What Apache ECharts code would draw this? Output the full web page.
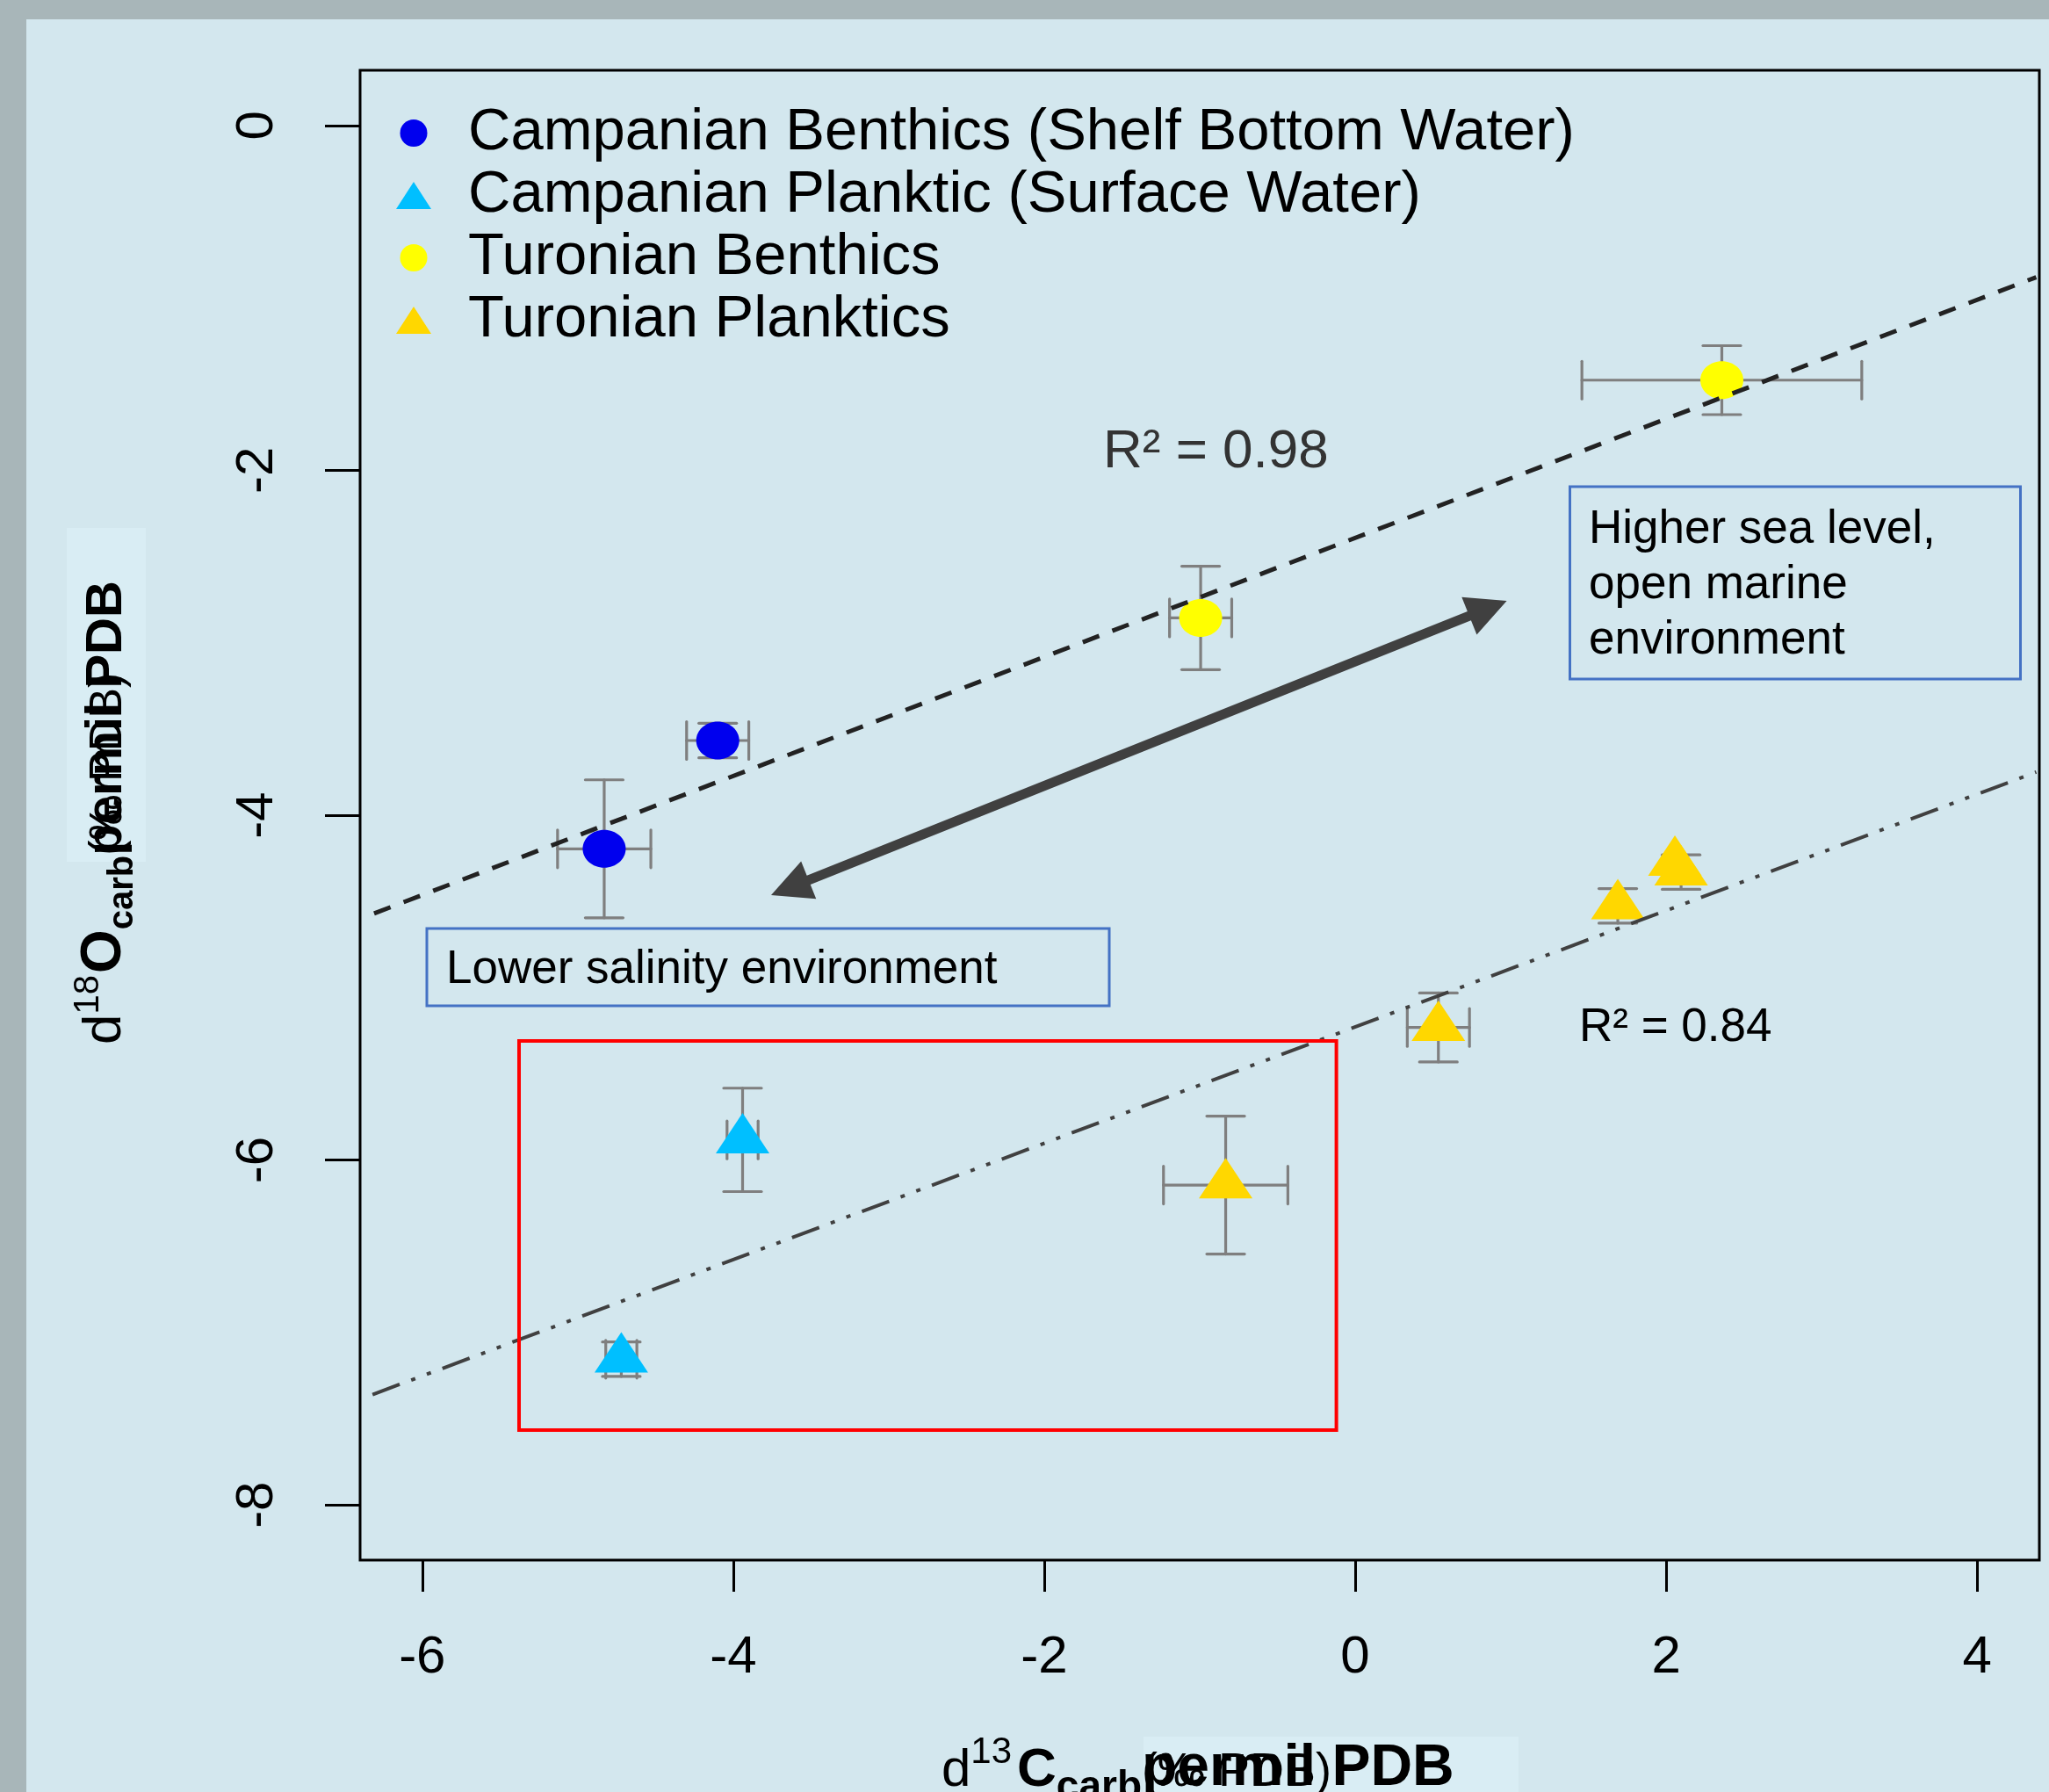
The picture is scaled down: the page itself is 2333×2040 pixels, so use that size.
<!DOCTYPE html>
<html><head><meta charset="utf-8">
<script src="https://cdn.jsdelivr.net/npm/echarts@6/dist/echarts.min.js"></script>
<style>html,body{margin:0;padding:0;background:#a8b6b9}#c{width:2333px;height:2040px}</style>
</head><body><div id="c"></div><script>
const FONT = 'Liberation Sans, Arial, Helvetica, sans-serif';

// ---- data ----
const seriesNames = ['Campanian Benthics (Shelf Bottom Water)', 'Campanian Planktic (Surface Water)', 'Turonian Benthics', 'Turonian Planktics'];
const campBenthX = [-4.83, -4.10];
const campBenthY = [-4.195, -3.567];
const campBenthXErr = [0.30, 0.20];
const campBenthYErr = [0.40, 0.10];
const campPlankX = [-3.94, -4.72];
const campPlankY = [-5.883, -7.155];
const campPlankXErr = [0.10, 0.10];
const campPlankYErr = [0.30, 0.10];
const turBenthX = [2.358, -0.994];
const turBenthY = [-1.477, -2.856];
const turBenthXErr = [0.90, 0.20];
const turBenthYErr = [0.20, 0.30];
const turPlankX = [0.535, 1.689, 2.056, 2.096, -0.833];
const turPlankY = [-5.231, -4.526, -4.274, -4.330, -6.145];
const turPlankXErr = [0.20, 0, 0, 0, 0.40];
const turPlankYErr = [0.20, 0.10, 0, 0.10, 0.40];
const benthTrendX = [-6.31, 4.38];
const benthTrendY = [-4.57, -0.88];
const plankTrendX = [-6.32, 4.38];
const plankTrendY = [-7.36, -3.75];
const xTicks = [-6, -4, -2, 0, 2, 4];
const yTicks = [0, -2, -4, -6, -8];

const zip2 = (a, b) => a.map((v, i) => [v, b[i]]);
const zip4 = (a, b, c, d) => a.map((v, i) => [v, b[i], c[i], d[i]]);

const ELLIPSE = 'path://M0,50 C0,22.4 22.4,0 50,0 C77.6,0 100,22.4 100,50 C100,77.6 77.6,100 50,100 C22.4,100 0,77.6 0,50 Z';

const errData = [].concat(
  zip4(campBenthX, campBenthY, campBenthXErr, campBenthYErr),
  zip4(campPlankX, campPlankY, campPlankXErr, campPlankYErr),
  zip4(turBenthX, turBenthY, turBenthXErr, turBenthYErr),
  zip4(turPlankX, turPlankY, turPlankXErr, turPlankYErr)
);

function errRender(params, api) {
  const x = api.value(0), y = api.value(1), ex = api.value(2), ey = api.value(3);
  const c = api.coord([x, y]);
  const cap = 21.5;
  const st = {stroke: '#7f7f7f', lineWidth: 3.2, lineCap: 'round'};
  const ch = [];
  if (ey > 0) {
    const t = api.coord([x, y + ey]), b = api.coord([x, y - ey]);
    ch.push({type: 'line', shape: {x1: c[0], y1: t[1], x2: c[0], y2: b[1]}, style: st});
    ch.push({type: 'line', shape: {x1: c[0] - cap, y1: t[1], x2: c[0] + cap, y2: t[1]}, style: st});
    ch.push({type: 'line', shape: {x1: c[0] - cap, y1: b[1], x2: c[0] + cap, y2: b[1]}, style: st});
  }
  if (ex > 0) {
    const l = api.coord([x - ex, y]), r = api.coord([x + ex, y]);
    ch.push({type: 'line', shape: {x1: l[0], y1: c[1], x2: r[0], y2: c[1]}, style: st});
    ch.push({type: 'line', shape: {x1: l[0], y1: c[1] - cap, x2: l[0], y2: c[1] + cap}, style: st});
    ch.push({type: 'line', shape: {x1: r[0], y1: c[1] - cap, x2: r[0], y2: c[1] + cap}, style: st});
  }
  return {type: 'group', children: ch};
}

// text measuring for composed axis titles
const mctx = document.createElement('canvas').getContext('2d');
function seq(x0, y0, rot, pieces) {
  let pos = 0, lastStart = 0;
  const children = [];
  pieces.forEach(p => {
    const font = (p.bold ? 'bold ' : '') + p.size + 'px ' + FONT;
    mctx.font = font;
    const w = mctx.measureText(p.t).width;
    let start = p.back ? lastStart : pos + (p.dx || 0);
    children.push({type: 'text', x: start, y: (p.dy || 0) - 0.3465 * p.size,
      style: {text: p.t, fontSize: p.size, fontWeight: p.bold ? 'bold' : 'normal', fontFamily: FONT,
        fill: '#000', align: 'left', verticalAlign: 'middle', textAlign: 'left', textVerticalAlign: 'middle'}});
    if (!p.back) { lastStart = start; pos = start + w; }
  });
  return {type: 'group', x: x0, y: y0, rotation: rot, children: children, z: 50};
}

function txt(x, y, s, size, color) {
  return {type: 'text', x: x, y: y, z: 60,
    style: {text: s, fontSize: size, fontFamily: FONT, fill: color, align: 'left', verticalAlign: 'middle', textAlign: 'left', textVerticalAlign: 'middle'}};
}
function box(x, y, w, h, color, lw) {
  return {type: 'rect', z: 60, shape: {x: x, y: y, width: w, height: h}, style: {fill: 'none', stroke: color, lineWidth: lw}};
}
function arrow(ax, ay, bx, by, hl, hw, sw) {
  const dx = bx - ax, dy = by - ay, L = Math.hypot(dx, dy);
  const ux = dx / L, uy = dy / L, nx = -uy, ny = ux;
  const P = (t, s) => [ax + ux * t + nx * s, ay + uy * t + ny * s];
  const pts = [P(0, 0), P(hl, hw), P(hl, sw), P(L - hl, sw), P(L - hl, hw), P(L, 0), P(L - hl, -hw), P(L - hl, -sw), P(hl, -sw), P(hl, -hw)];
  return {type: 'polygon', z: 60, shape: {points: pts}, style: {fill: '#404040'}};
}

const chart = echarts.init(document.getElementById('c'), null, {renderer: 'canvas', width: 2333, height: 2040});
chart.setOption({
  animation: false,
  backgroundColor: '#a8b6b9',
  grid: {left: 410, top: 80, width: 1912, height: 1696, show: true, borderColor: '#000', borderWidth: 3,
    backgroundColor: 'transparent', containLabel: false, outerBoundsMode: 'none'},
  legend: {
    orient: 'vertical', left: 451, top: 118, padding: 0, itemGap: 4, itemWidth: 40, itemHeight: 31,
    selectedMode: false,
    textStyle: {fontSize: 67, lineHeight: 64, fontFamily: FONT, color: '#000', padding: [0, 0, 0, 37]},
    data: [
      {name: seriesNames[0], icon: 'circle'},
      {name: seriesNames[1], icon: 'triangle'},
      {name: seriesNames[2], icon: 'circle'},
      {name: seriesNames[3], icon: 'triangle'}
    ]
  },
  xAxis: {
    type: 'value', min: -6.4, max: 4.4,
    axisLine: {show: false, onZero: false}, splitLine: {show: false},
    axisTick: {show: true, length: 36, lineStyle: {color: '#000', width: 3}, customValues: xTicks},
    axisLabel: {customValues: xTicks, fontSize: 60, fontFamily: FONT, color: '#000', margin: 81}
  },
  yAxis: {
    type: 'value', min: -8.32, max: 0.32,
    axisLine: {show: false, onZero: false}, splitLine: {show: false},
    axisTick: {show: true, length: 40, lineStyle: {color: '#000', width: 3}, customValues: yTicks},
    axisLabel: {customValues: yTicks, fontSize: 60, fontFamily: FONT, color: '#000', margin: 87, rotate: 90}
  },
  series: [
    {type: 'custom', name: 'errors', renderItem: errRender, data: errData, z: 2, silent: true,
      encode: {x: 0, y: 1}},
    {type: 'scatter', name: seriesNames[0], data: zip2(campBenthX, campBenthY), symbol: ELLIPSE, symbolKeepAspect: false,
      symbolSize: [49, 43], itemStyle: {color: '#0000ee', opacity: 1}, z: 3},
    {type: 'scatter', name: seriesNames[1], data: zip2(campPlankX, campPlankY), symbol: 'triangle',
      symbolSize: [61, 46], symbolOffset: [0, -7.7], itemStyle: {color: '#00bfff', opacity: 1}, z: 3},
    {type: 'scatter', name: seriesNames[2], data: zip2(turBenthX, turBenthY), symbol: ELLIPSE, symbolKeepAspect: false,
      symbolSize: [49, 43], itemStyle: {color: '#ffff00', opacity: 1}, z: 3},
    {type: 'scatter', name: seriesNames[3], data: zip2(turPlankX, turPlankY), symbol: 'triangle',
      symbolSize: [61, 46], symbolOffset: [0, -7.7], itemStyle: {color: '#ffd700', opacity: 1}, z: 3},
    {type: 'line', name: 'benthTrend', data: zip2(benthTrendX, benthTrendY), symbol: 'none', silent: true, z: 4,
      lineStyle: {color: '#222', width: 5, type: [20, 16], cap: 'butt'}},
    {type: 'line', name: 'plankTrend', data: zip2(plankTrendX, plankTrendY), symbol: 'none', silent: true, z: 4,
      lineStyle: {color: '#404040', width: 4, type: [33, 14, 5, 14, 5, 14], cap: 'butt'}}
  ],
  graphic: [
    {type: 'rect', z: -10, shape: {x: 30, y: 22, width: 2303, height: 2018}, style: {fill: '#d3e7ee'}},
    {type: 'rect', z: -9, shape: {x: 76, y: 601, width: 90, height: 380}, style: {fill: '#d9edf4'}},
    {type: 'rect', z: -9, shape: {x: 1302, y: 1977, width: 427, height: 63}, style: {fill: '#d9edf4'}},
    seq(141.7, 1189, Math.PI / 2, [
      {t: 'd', size: 62}, {t: '18', size: 40, dy: -27}, {t: 'O', size: 64, bold: true, dx: 2},
      {t: 'carb', size: 40, bold: true, dy: 12}, {t: 'permil PDB', size: 58, bold: true},
      {t: '(‰ PDB)', size: 52, back: true}
    ]),
    seq(1072, 2037, 0, [
      {t: 'd', size: 60}, {t: '13', size: 42, dy: -27}, {t: 'C', size: 62, bold: true, dx: 6},
      {t: 'carb', size: 46, bold: true, dy: 14}, {t: 'permil PDB', size: 66, bold: true},
      {t: '(‰ PDB)', size: 54, back: true}
    ]),
    txt(1256, 515, 'R² = 0.98', 62, '#333333'),
    txt(1798, 1170, 'R² = 0.84', 53, '#000000'),
    box(486, 1057, 777, 88, '#4472c4', 3),
    txt(508, 1104, 'Lower salinity environment', 53, '#000000'),
    box(1787.5, 554, 513, 219, '#4472c4', 3),
    txt(1809, 603, 'Higher sea level,', 53, '#000000'),
    txt(1809, 666.5, 'open marine', 53, '#000000'),
    txt(1809, 729.5, 'environment', 53, '#000000'),
    box(591, 1185, 930.6, 443, '#ff0000', 4),
    arrow(878, 1019, 1715.6, 684, 46, 23, 5.5)
  ]
});
</script></body></html>
